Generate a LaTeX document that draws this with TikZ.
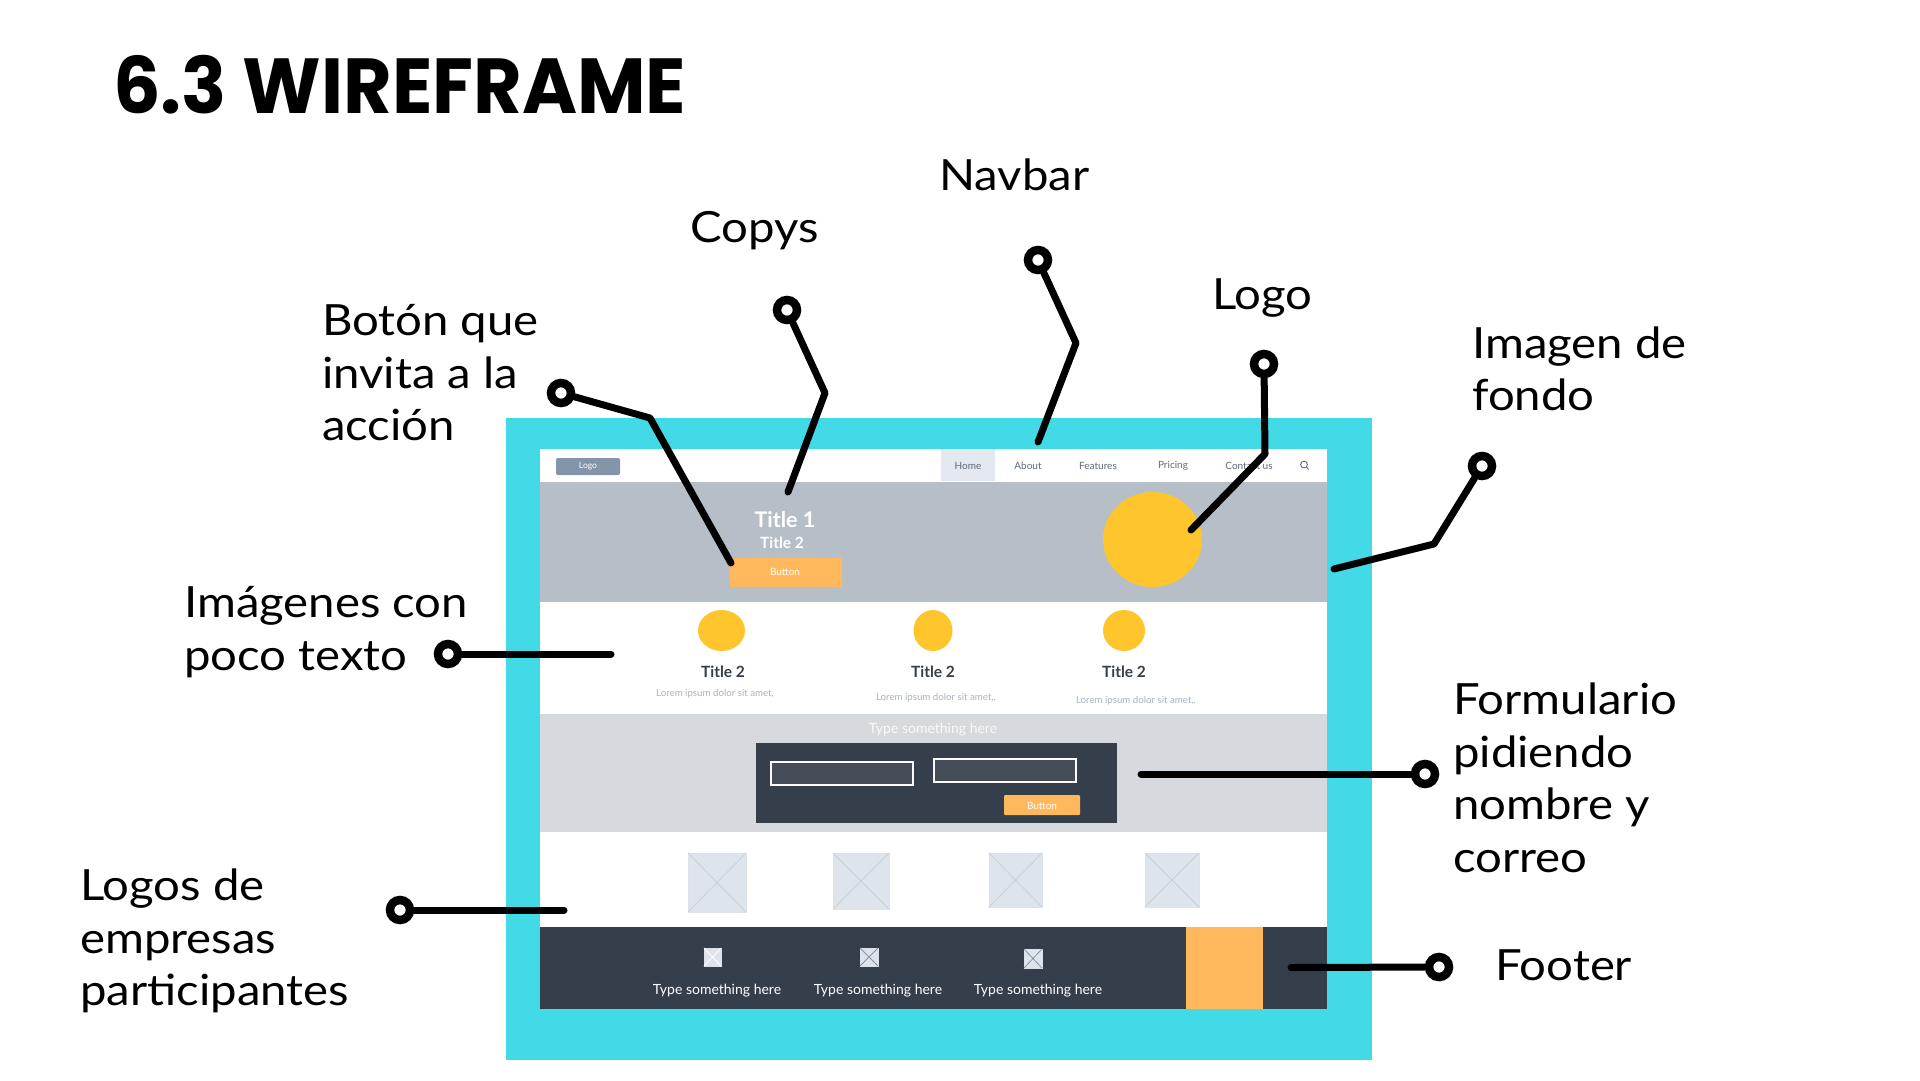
\documentclass[tikz,border=0pt]{standalone}
\usepackage{fontspec}
\setmainfont{Lato}
\newfontfamily\titlefont{Poppins}[UprightFont=* Bold]
\newfontfamily\handfont{Lato}[FakeStretch=1.1]
\definecolor{cyanbg}{HTML}{43DAE8}
\definecolor{hero}{HTML}{B6BEC7}
\definecolor{band}{HTML}{D6DADF}
\definecolor{darkb}{HTML}{353E4B}
\definecolor{orng}{HTML}{FFB95C}
\definecolor{yell}{HTML}{FFC52C}
\definecolor{logob}{HTML}{8494A9}
\definecolor{homeb}{HTML}{E3E8F1}
\definecolor{ph}{HTML}{DEE4EC}
\definecolor{phl}{HTML}{C6CFDA}
\definecolor{lorem}{HTML}{A8B2C4}
\definecolor{navt}{HTML}{5F6A7A}
\definecolor{fieldb}{HTML}{434C57}
\tikzset{
  ring/.style={circle,draw=black,line width=8.5pt,fill=white,minimum size=20pt,inner sep=0pt},
  conn/.style={draw=black,line width=7pt,line cap=round,line join=round},
  hand/.style={font=\handfont\fontsize{43}{52.5}\selectfont,align=left,anchor=west,inner sep=0pt,text=black},
  navtxt/.style={font=\fontsize{10}{12}\selectfont,text=navt,inner sep=0pt},
  tt2/.style={font=\bfseries\fontsize{15.5}{18}\selectfont,text=darkb,inner sep=0pt},
  lor/.style={font=\fontsize{9.7}{12}\selectfont,text=lorem,inner sep=0pt},
  wtxt/.style={font=\fontsize{14}{16}\selectfont,text=white,inner sep=0pt},
  btntxt/.style={font=\fontsize{10}{12}\selectfont,text=white,inner sep=0pt},
  phbox/.style={fill=ph,draw=phl!60,line width=.6pt},
  phx/.style={draw=phl,line width=.8pt},
}
\begin{document}
\begin{tikzpicture}[x=1pt,y=-1pt]
\useasboundingbox (0,0) rectangle (1920,1080);
\fill[white] (0,0) rectangle (1920,1080);
% frame and page bands
\fill[cyanbg] (506,418) rectangle (1372,1060);
\fill[white] (540,449) rectangle (1327,482);
\fill[hero] (540,482) rectangle (1327,602);
\fill[white] (540,602) rectangle (1327,714);
\fill[band] (540,714) rectangle (1327,832);
\fill[white] (540,832) rectangle (1327,927);
\fill[darkb] (540,927) rectangle (1327,1009);
\fill[orng] (1186,927) rectangle (1263,1009);
% navbar
\fill[logob,rounded corners=2pt] (556,458) rectangle (620,475);
\node[btntxt,font=\fontsize{8.5}{10}\selectfont] (tlogo) at (588,466.5) {Logo};
\fill[homeb] (941,449) rectangle (995,481);
\node[navtxt] (nhome) at (968,466) {Home};
\node[navtxt] (nabout) at (1028,466) {About};
\node[navtxt] (nfeat) at (1098,466) {Features};
\node[navtxt] (npric) at (1173,466) {Pricing};
\node[navtxt] (ncont) at (1249,466) {Contact us};
\draw[navt,line width=.9pt] (1304,464.5) circle (3.4pt) (1306.5,467) -- (1308.5,469.5);
% hero
\node[font=\bfseries\fontsize{21.5}{24}\selectfont,text=white,inner sep=0pt] (t1) at (785,520) {Title 1};
\node[font=\bfseries\fontsize{15.5}{18}\selectfont,text=white,inner sep=0pt] (t2) at (782,543) {Title 2};
\fill[orng,rounded corners=1pt] (730,558) rectangle (842,587);
\node[btntxt] (hbtn) at (785,571.5) {Button};
\fill[yell] (1152.5,539.5) ellipse [x radius=49.5,y radius=47.5];
% features
\fill[yell] (721.5,630.5) ellipse [x radius=23.5,y radius=20.5];
\fill[yell] (933,630.5) ellipse [x radius=19.5,y radius=20.5];
\fill[yell] (1124,630.5) ellipse [x radius=21,y radius=20.5];
\node[tt2] (f1) at (723,671.5) {Title 2};
\node[tt2] (f2) at (933,671.5) {Title 2};
\node[tt2] (f3) at (1124,671.5) {Title 2};
\node[lor] (l1) at (715,693.5) {Lorem ipsum dolor sit amet,};
\node[lor] (l2) at (936,697.5) {Lorem ipsum dolor sit amet,.};
\node[lor] (l3) at (1136,700.5) {Lorem ipsum dolor sit amet,.};
% form
\node[wtxt,text=white!85!band] (ftitle) at (933,729.5) {Type something here};
\fill[darkb] (756,743) rectangle (1117,823);
\draw[fill=fieldb,draw=white!90!band,line width=1.6pt] (771,762) rectangle (913,785);
\draw[fill=fieldb,draw=white!90!band,line width=1.6pt] (934,759) rectangle (1076,782);
\fill[orng,rounded corners=1pt] (1004,795) rectangle (1080,815);
\node[btntxt] (fbtn) at (1042,805.5) {Button};
% logo placeholders
\draw[phbox] (688,853) rectangle (746,912); \draw[phx] (688,853) -- (746,912) (746,853) -- (688,912);
\draw[phbox] (833,853) rectangle (889,909); \draw[phx] (833,853) -- (889,909) (889,853) -- (833,909);
\draw[phbox] (989,853) rectangle (1042,907); \draw[phx] (989,853) -- (1042,907) (1042,853) -- (989,907);
\draw[phbox] (1145,853) rectangle (1199,907); \draw[phx] (1145,853) -- (1199,907) (1199,853) -- (1145,907);
% footer
\draw[phbox] (704,948) rectangle (721,966); \draw[phx,draw=white] (704,948) -- (721,966) (721,948) -- (704,966);
\draw[phbox] (860,948) rectangle (878,966); \draw[phx,draw=logob] (860,948) -- (878,966) (878,948) -- (860,966);
\draw[phbox] (1024,949) rectangle (1042,968); \draw[phx,draw=logob] (1024,949) -- (1042,968) (1042,949) -- (1024,968);
\node[wtxt] (b1) at (717,991) {Type something here};
\node[wtxt] (b2) at (878,991) {Type something here};
\node[wtxt] (b3) at (1038,991) {Type something here};
% heading
\node[font=\titlefont\fontsize{78}{80}\selectfont,anchor=base west,inner sep=0pt,text=black] (title) at (113,113) {\scalebox{.958}[1]{6.3 WIREFRAME}};
% hand labels
\node[hand] (lcopys) at (690,231) {Copys};
\node[hand] (lnav) at (939,175) {Navbar};
\node[hand] (llogo) at (1212,298) {Logo};
\node[hand] (lboton) at (322,373) {Botón que\\invita a la\\acción};
\node[hand] (limagen) at (1472,369) {Imagen de\\fondo};
\node[hand] (limgs) at (184,632) {Imágenes con\\poco texto};
\node[hand] (lform) at (1453,778) {Formulario\\pidiendo\\nombre y\\correo};
\node[hand] (lemp) at (80,941) {Logos de\\empresas\\participantes};
\node[hand] (lfoot) at (1495,965) {Footer};
% connectors
\node[ring] (rboton) at (561,393) {};
\node[ring] (rcopys) at (787,310) {};
\node[ring] (rnav) at (1038,260) {};
\node[ring] (rlogo) at (1264,364) {};
\node[ring] (rimg) at (1482,466) {};
\node[ring] (rimgs) at (448,654) {};
\node[ring] (rform) at (1425,774) {};
\node[ring] (remp) at (400,910) {};
\node[ring] (rfoot) at (1439,967) {};
\coordinate (eboton) at (731,563);
\coordinate (ecopys) at (788,492);
\coordinate (enav) at (1038,442);
\coordinate (elogo) at (1191,530);
\coordinate (eimg) at (1334,569);
\coordinate (eimgs) at (611,654);
\coordinate (eform) at (1141,774);
\coordinate (eemp) at (564,910);
\coordinate (efoot) at (1291,967.5);
\draw[conn] (rboton) -- (650,418) -- (eboton);
\draw[conn] (rcopys) -- (825,393) -- (ecopys);
\draw[conn] (rnav) -- (1076,343) -- (enav);
\draw[conn] (rlogo) -- (1265,454) -- (elogo);
\draw[conn] (rimg) -- (1434,544) -- (eimg);
\draw[conn] (rimgs) -- (eimgs);
\draw[conn] (rform) -- (eform);
\draw[conn] (remp) -- (eemp);
\draw[conn] (rfoot) -- (efoot);
\end{tikzpicture}
\end{document}
